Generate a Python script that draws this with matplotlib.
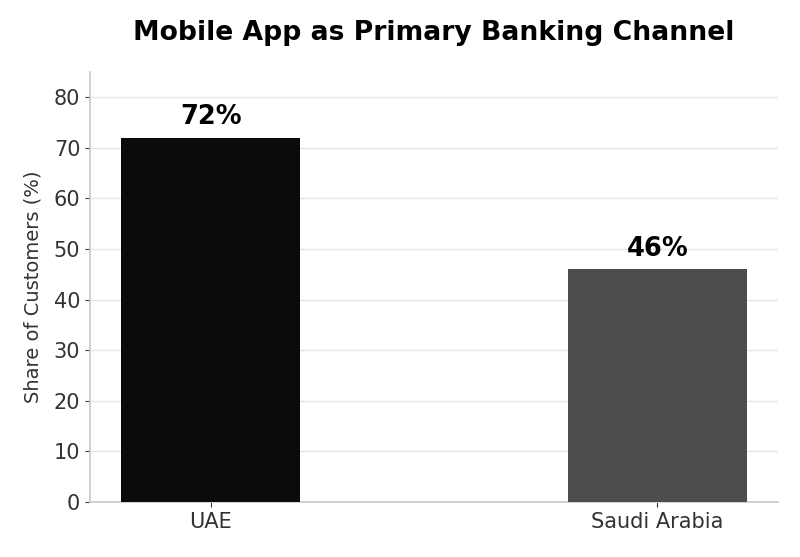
import matplotlib
matplotlib.use("Agg")
import matplotlib.pyplot as plt

categories = ["UAE", "Saudi Arabia"]
values = [72, 46]
labels = ["72%", "46%"]
colors = ["#0b0b0b", "#4d4d4d"]

fig = plt.figure(figsize=(8, 5.57), dpi=100)
ax = fig.add_axes([90/800, 1-502/557, 688/800, (502-72)/557])
x = list(range(len(categories)))
bars = ax.bar(x, values, width=0.4, color=colors, zorder=3)
ax.set_xticks(x)
ax.set_xticklabels(categories, fontsize=15, color="#333333")
ax.set_xlim(-0.27, 1.27)
ax.set_ylim(0, 72*1.18)
ax.set_yticks(range(0, 81, 10))
ax.tick_params(axis="y", labelsize=15, colors="#333333")
ax.tick_params(axis="x", colors="#333333")
for s in ["top", "right"]:
    ax.spines[s].set_visible(False)
for s in ["left", "bottom"]:
    ax.spines[s].set_color("#cccccc")
    ax.spines[s].set_linewidth(1.25)
ax.yaxis.grid(True, color="#e5e5e5", linewidth=1, zorder=0)
ax.set_axisbelow(True)
ax.set_ylabel("Share of Customers (%)", fontsize=14, color="#333333", labelpad=8)
for b, lab in zip(bars, labels):
    ax.text(b.get_x()+b.get_width()/2, b.get_height()+1.5, lab, ha="center", va="bottom",
            fontsize=18.5, fontweight="bold")
fig.text(434/800, 1-33/557, "Mobile App as Primary Banking Channel", ha="center", va="center",
         fontsize=19.2, fontweight="bold")
fig.savefig("out.png", dpi=100)
